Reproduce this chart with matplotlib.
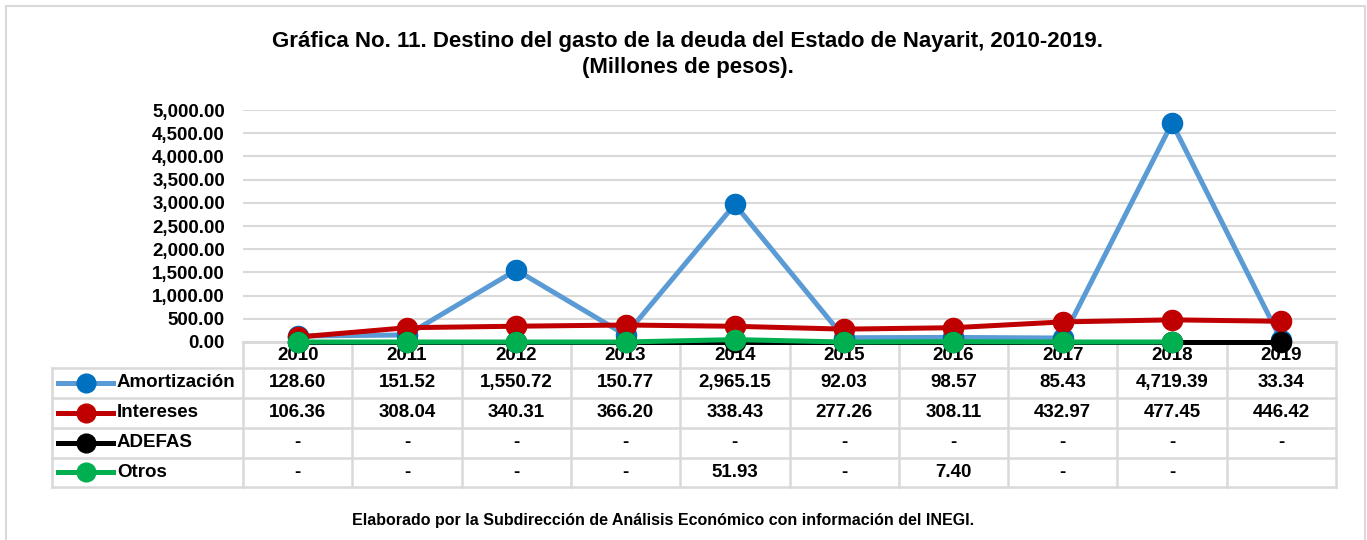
import numpy as np
import matplotlib
matplotlib.use("Agg")
import matplotlib.pyplot as plt
from matplotlib.transforms import blended_transform_factory
from matplotlib.lines import Line2D
from matplotlib.patches import Rectangle

plt.rcParams['font.family'] = ['Liberation Sans', 'DejaVu Sans']
plt.rcParams['font.weight'] = 'bold'

years = ['2010', '2011', '2012', '2013', '2014', '2015', '2016', '2017', '2018', '2019']
amortizacion = [128.60, 151.52, 1550.72, 150.77, 2965.15, 92.03, 98.57, 85.43, 4719.39, 33.34]
intereses = [106.36, 308.04, 340.31, 366.20, 338.43, 277.26, 308.11, 432.97, 477.45, 446.42]
adefas = [0, 0, 0, 0, 0, 0, 0, 0, 0, 0]
otros = [0, 0, 0, 0, 51.93, 0, 7.40, 0, 0, np.nan]
series_names = ['Amortización', 'Intereses', 'ADEFAS', 'Otros']
y_ticks = [0, 500, 1000, 1500, 2000, 2500, 3000, 3500, 4000, 4500, 5000]

series = [amortizacion, intereses, adefas, otros]
line_colors = ['#5B9BD5', '#C00000', '#000000', '#00B050']
marker_colors = ['#0070C0', '#C00000', '#000000', '#00B050']

W, H = 1367, 540
fig = plt.figure(figsize=(W / 100, H / 100), dpi=100)

def fx(px):
    return px / W

def fy(py):
    return 1 - py / H

FS = 13.5

ax_left, ax_right, ax_top, ax_bottom = 243, 1336, 110, 342
ax = fig.add_axes([fx(ax_left), fy(ax_bottom), fx(ax_right) - fx(ax_left), fy(ax_top) - fy(ax_bottom)])

x = np.arange(len(years))
for vals, lc, mc in zip(series, line_colors, marker_colors):
    ax.plot(x, vals, color=lc, lw=3.6, marker='o', markersize=14.5,
            markerfacecolor=mc, markeredgecolor=mc, clip_on=False, zorder=5)

ax.set_xlim(-0.5, len(years) - 0.5)
ax.set_ylim(0, 5000)
ax.set_yticks(y_ticks)
ax.set_yticklabels([f"{v:,.2f}" for v in y_ticks], fontsize=FS, fontweight='bold')
ax.tick_params(axis='y', length=0, pad=13)
ax.set_xticks([])
ax.grid(axis='y', color='#D9D9D9', lw=1.5)
ax.set_axisbelow(True)
for s in ['top', 'right', 'left']:
    ax.spines[s].set_visible(False)
ax.spines['bottom'].set_color('#D9D9D9')
ax.spines['bottom'].set_linewidth(1.8)

# Data table drawn under the axes
tr = blended_transform_factory(ax.transData, fig.transFigure)
grid_kw = dict(color='#D9D9D9', lw=1.8, clip_on=False, zorder=1)
row_edges = [342, 368, 397.5, 427.5, 457.5, 487]
col_edges = np.arange(len(years) + 1) - 0.5
leg_left_data = -0.5 - (ax_left - 52) / ((ax_right - ax_left) / len(years))

# horizontal lines
ax.add_line(Line2D([col_edges[0], col_edges[-1]], [fy(row_edges[0])] * 2, transform=tr, **grid_kw))
for r in row_edges[1:]:
    ax.add_line(Line2D([leg_left_data, col_edges[-1]], [fy(r)] * 2, transform=tr, **grid_kw))
# vertical lines
for c in col_edges:
    ax.add_line(Line2D([c, c], [fy(row_edges[0]), fy(row_edges[-1])], transform=tr, **grid_kw))
ax.add_line(Line2D([leg_left_data, leg_left_data], [fy(row_edges[1]), fy(row_edges[-1])], transform=tr, **grid_kw))

# year labels
year_y = (row_edges[0] + row_edges[1]) / 2 + 1
for i, yr in enumerate(years):
    ax.text(i, fy(year_y), yr, transform=tr, ha='center', va='center',
            fontsize=FS, fontweight='bold', zorder=3, clip_on=False)

def fmt(v):
    if v is None or (isinstance(v, float) and np.isnan(v)):
        return ''
    if v == 0:
        return '-'
    return f"{v:,.2f}"

for r, (name, vals, lc, mc) in enumerate(zip(series_names, series, line_colors, marker_colors)):
    yc = (row_edges[r + 1] + row_edges[r + 2]) / 2
    for i, v in enumerate(vals):
        ax.text(i, fy(yc), fmt(v), transform=tr, ha='center', va='center',
                fontsize=FS, fontweight='bold', zorder=3, clip_on=False)
    # legend key
    fig.add_artist(Line2D([fx(58), fx(113)], [fy(yc)] * 2, color=lc, lw=3.6))
    fig.add_artist(Line2D([fx(85.5)], [fy(yc)], marker='o', markersize=13.5,
                          markerfacecolor=mc, markeredgecolor=mc, lw=0))
    fig.text(fx(117), fy(yc), name, ha='left', va='center', fontsize=FS, fontweight='bold')

# titles and footer
fig.text(fx(687), fy(42), 'Gráfica No. 11. Destino del gasto de la deuda del Estado de Nayarit, 2010-2019.',
         ha='center', va='center', fontsize=16, fontweight='bold')
fig.text(fx(688), fy(67), '(Millones de pesos).', ha='center', va='center', fontsize=16, fontweight='bold')
fig.text(fx(663), fy(521), 'Elaborado por la Subdirección de Análisis Económico con información del INEGI.',
         ha='center', va='center', fontsize=11.5, fontweight='bold')

# outer frame
fig.add_artist(Rectangle((fx(6), fy(560)), fx(1365) - fx(6), fy(6) - fy(560),
                         transform=fig.transFigure, fill=False, edgecolor='#D9D9D9', lw=1.5))

fig.savefig('out.png', dpi=100)
